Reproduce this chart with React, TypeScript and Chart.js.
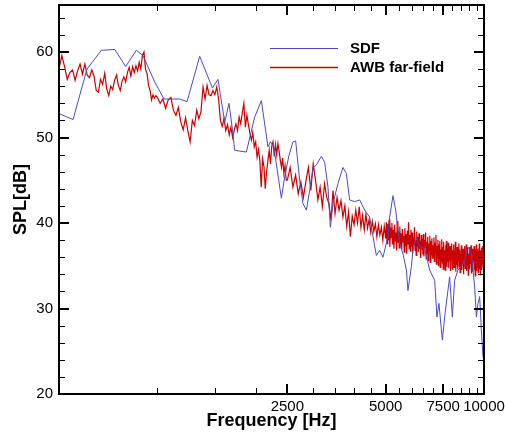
import React, { useEffect, useRef } from "react";
import { Chart, registerables } from "chart.js";

Chart.register(...registerables);

// ---------- data ----------
const sdfFreq = [
  500, 552, 609, 674, 741, 800, 862, 903, 982, 1048, 1171, 1233, 1348, 1474, 1533,
  1608, 1657, 1697, 1725, 1873, 1986, 2082, 2181, 2219, 2271, 2397, 2454, 2529, 2601,
  2651, 2727, 2791, 2859, 2926, 2995, 3068, 3178, 3253, 3329, 3386, 3449, 3572, 3700,
  3790, 3879, 4018, 4163, 4312, 4467, 4572, 4683, 4793, 4906, 5081, 5143, 5264, 5366,
  5518, 5649, 5786, 5851, 5993, 6061, 6208, 6354, 6582, 6818, 7063, 7178, 7279, 7456,
  7578, 7756, 7849, 8000, 8130, 8323, 8525, 8727, 8930, 9148, 9364, 9478, 9584, 9699,
  9815, 9926, 10000,
];
const sdfSpl = [
  52.8, 52.1, 58.0, 60.2, 60.3, 58.3, 60.2, 59.6, 56.5, 54.5, 54.5, 54.2, 59.5, 55.8, 56.8,
  51.8, 54.0, 51.0, 48.5, 48.3, 52.4, 54.3, 48.9, 49.5, 49.0, 42.9, 45.4, 47.9, 49.5,
  49.6, 45.0, 42.3, 41.5, 43.8, 46.4, 46.8, 47.8, 47.1, 44.2, 39.5, 42.3, 44.6, 46.5,
  45.8, 42.7, 42.5, 42.7, 41.5, 40.7, 38.4, 36.2, 36.8, 36.0, 38.4, 40.7, 43.2, 41.5,
  37.6, 36.4, 34.5, 32.1, 34.9, 36.8, 38.4, 37.2, 37.0, 34.5, 33.3, 29.0, 30.6, 26.3,
  29.0, 32.1, 33.7, 29.0, 33.3, 34.5, 34.9, 35.7, 37.2, 36.4, 32.5, 29.0, 30.6, 31.4,
  27.5, 24.4, 24.0,
];

// AWB far-field: spectrum bins, four frequency bands with their own bin width
const awbLowStart = 500;
const awbLowStep = 10;
const awbLowSpl = [
  58.0, 59.6, 58.3, 56.8, 57.6, 57.9, 56.7, 57.8, 58.6, 57.4,
  58.6, 57.3, 57.0, 57.9, 57.2, 55.5, 55.3, 56.8, 56.2, 57.5,
  55.7, 54.9, 56.0, 55.6, 56.7, 57.3, 56.1, 55.5, 56.6, 57.1,
  56.5, 57.6, 58.2, 57.2, 58.3, 57.6, 58.4, 57.8, 58.8, 58.0,
  59.6, 60.0, 58.0, 57.5, 56.1, 55.5, 54.4, 55.0, 54.6, 54.9,
];
const awbMidStart = 1000;
const awbMidStep = 20;
const awbMidSpl = [
  54.7, 54.0, 54.5, 53.4, 54.4, 54.7, 53.2, 52.6, 53.5, 51.8,
  50.9, 52.3, 50.8, 49.5, 52.0, 51.4, 53.2, 52.2, 53.0, 55.9,
  54.5, 56.1, 55.0, 54.9, 55.5, 55.0, 55.9, 54.5, 52.0, 51.3,
  52.2, 50.8, 51.5, 50.3, 51.2, 50.0, 50.9, 51.6, 50.8, 52.4,
  51.6, 52.9, 54.0, 51.2, 52.6, 51.5, 50.5, 49.7, 50.6, 48.9,
  49.5, 47.7, 48.6, 47.3, 44.2, 47.5, 46.6, 44.0, 46.0, 47.3,
  48.5, 46.9, 49.0, 49.5, 47.8, 49.2, 48.0, 49.3, 48.4, 47.3,
  46.5, 47.6, 45.8, 46.7, 45.0,
];
const awbHighStart = 2500;
const awbHighStep = 50;
const awbHighSpl = [
  45.0, 46.5, 44.2, 45.6, 43.4, 44.8, 43.0, 44.9, 46.5, 43.8,
  46.9, 45.0, 42.7, 44.2, 41.9, 44.6, 43.0, 42.3, 40.3, 43.8,
  41.1, 43.0, 41.5, 42.6, 40.7, 42.0, 39.6, 41.3, 38.4, 40.8,
  39.8, 41.5, 40.0, 41.9, 39.5, 40.9, 39.2, 41.0, 39.4, 40.4,
  38.9, 40.2, 39.0, 39.9, 38.4, 39.8, 38.6, 39.5, 38.0, 39.6,
  38.2,
];
const awbTopStart = 5025;
const awbTopStep = 25;
const awbTopSpl = [
  40.1, 37.6, 39.9, 38.0, 40.4, 37.2, 39.5, 38.3, 40.0, 37.5,
  39.2, 37.0, 39.8, 37.9, 38.9, 36.8, 40.2, 37.7, 39.0, 37.1,
  39.6, 37.4, 38.8, 36.9, 39.3, 37.8, 38.5, 36.6, 39.4, 37.3,
  38.7, 36.4, 39.1, 37.5, 40.1, 37.0, 38.6, 36.7, 39.2, 37.2,
  38.9, 36.5, 38.3, 37.4, 39.5, 36.8, 38.0, 36.2, 39.0, 37.3,
  38.4, 36.6, 38.8, 37.0, 37.9, 35.9, 38.6, 36.9, 38.2, 36.3,
  38.7, 36.1, 38.0, 37.2, 38.9, 35.8, 37.8, 36.5, 38.4, 35.6,
  37.6, 36.8, 38.5, 35.4, 37.9, 36.3, 38.2, 35.9, 37.4, 36.0,
  38.3, 35.5, 37.7, 36.6, 38.6, 35.2, 37.3, 36.1, 38.0, 35.0,
  37.5, 35.8, 37.9, 34.8, 36.9, 35.6, 38.1, 35.3, 37.2, 34.6,
  37.8, 35.7, 36.8, 34.5, 37.4, 35.9, 37.9, 34.9, 36.6, 35.4,
  37.7, 34.7, 36.9, 35.6, 37.3, 34.4, 36.5, 35.8, 37.6, 34.6,
  36.8, 35.3, 37.5, 34.8, 36.3, 35.6, 37.8, 34.3, 36.7, 35.1,
  37.2, 34.6, 36.4, 35.5, 37.6, 34.9, 36.9, 34.2, 36.1, 35.4,
  37.4, 34.5, 36.6, 35.2, 37.0, 34.0, 36.8, 35.6, 37.3, 34.7,
  36.2, 35.3, 37.5, 34.4, 36.5, 35.0, 37.1, 33.9, 36.4, 35.5,
  37.2, 34.6, 36.0, 35.2, 37.4, 34.1, 36.6, 35.4, 37.0, 34.3,
  36.3, 35.6, 37.3, 34.5, 36.1, 33.8, 36.9, 35.1, 37.5, 34.4,
  36.4, 35.0, 37.0, 34.2, 36.7, 35.4, 37.6, 34.6, 36.2, 33.9,
  36.8, 35.2, 37.1, 34.5, 36.0, 35.3, 37.3, 34.8, 36.5, 35.8,
];

const xLabelTicks = [2500, 5000, 7500, 10000];
const xMinorTicks = [1000, 1500, 2000, 3000, 3500, 4000, 4500, 5500, 6000, 6500, 7000, 8000, 8500, 9000, 9500];
const yLabelTicks = [20, 30, 40, 50, 60];
const yMinorTicks = [22, 24, 26, 28, 32, 34, 36, 38, 42, 44, 46, 48, 52, 54, 56, 58, 62, 64];

const seriesNames = ["SDF", "AWB far-field"];
const seriesColors = ["#4a4ac8", "#cc0000"];

const FONT = "'Liberation Sans', Arial, Helvetica, sans-serif";

function band(start: number, step: number, vals: number[]) {
  return vals.map((v, i) => ({ x: start + i * step, y: v }));
}

const framePlugin = {
  id: "frameTicksLegend",
  afterDatasetsDraw(chart: any) {
    const { ctx, chartArea: a, scales } = chart;
    const xs = scales.x;
    const ys = scales.y;
    ctx.save();
    ctx.strokeStyle = "#000";
    // minor ticks
    ctx.lineWidth = 1;
    ctx.beginPath();
    for (const v of xMinorTicks) {
      const p = Math.round(xs.getPixelForValue(v)) + 0.5;
      ctx.moveTo(p, a.bottom); ctx.lineTo(p, a.bottom - 6);
      ctx.moveTo(p, a.top); ctx.lineTo(p, a.top + 6);
    }
    for (const v of yMinorTicks) {
      const p = Math.round(ys.getPixelForValue(v)) + 0.5;
      ctx.moveTo(a.left, p); ctx.lineTo(a.left + 6, p);
      ctx.moveTo(a.right, p); ctx.lineTo(a.right - 6, p);
    }
    ctx.stroke();
    // major ticks
    ctx.lineWidth = 2;
    ctx.beginPath();
    for (const v of xLabelTicks) {
      const p = Math.round(xs.getPixelForValue(v));
      ctx.moveTo(p, a.bottom); ctx.lineTo(p, a.bottom - 10);
      ctx.moveTo(p, a.top); ctx.lineTo(p, a.top + 10);
    }
    for (const v of yLabelTicks) {
      const p = Math.round(ys.getPixelForValue(v));
      ctx.moveTo(a.left, p); ctx.lineTo(a.left + 10, p);
      ctx.moveTo(a.right, p); ctx.lineTo(a.right - 10, p);
    }
    ctx.stroke();
    // frame
    ctx.lineWidth = 2;
    ctx.strokeRect(a.left, a.top, a.right - a.left, a.bottom - a.top);

    // legend
    const rows = [48, 67];
    ctx.font = `bold 15px ${FONT}`;
    ctx.textBaseline = "middle";
    ctx.textAlign = "left";
    seriesNames.forEach((name, i) => {
      const y = rows[i];
      ctx.beginPath();
      ctx.strokeStyle = seriesColors[i];
      ctx.lineWidth = i === 1 ? 1.5 : 1.2;
      ctx.moveTo(270, y + 0.5);
      ctx.lineTo(338, y + 0.5);
      ctx.stroke();
      ctx.fillStyle = "#000";
      ctx.fillText(name, 350, y + 1);
    });
    ctx.restore();
  },
};

export default function App() {
  const ref = useRef<HTMLCanvasElement | null>(null);

  useEffect(() => {
    if (!ref.current) return;
    const awbPoints = [
      ...band(awbLowStart, awbLowStep, awbLowSpl),
      ...band(awbMidStart, awbMidStep, awbMidSpl),
      ...band(awbHighStart, awbHighStep, awbHighSpl),
      ...band(awbTopStart, awbTopStep, awbTopSpl),
    ];
    const sdfPoints = sdfFreq.map((f, i) => ({ x: f, y: sdfSpl[i] }));

    const chart = new Chart(ref.current, {
      type: "line",
      data: {
        datasets: [
          {
            label: seriesNames[0],
            data: sdfPoints,
            borderColor: seriesColors[0],
            borderWidth: 1,
            pointRadius: 0,
            tension: 0,
            fill: false,
            order: 0,
          },
          {
            label: seriesNames[1],
            data: awbPoints,
            borderColor: seriesColors[1],
            borderWidth: 1.2,
            pointRadius: 0,
            tension: 0,
            fill: false,
            order: 1,
          },
        ],
      },
      options: {
        animation: false,
        responsive: false,
        layout: { padding: { top: 5, right: 21, left: 0, bottom: 0 } },
        plugins: { legend: { display: false }, tooltip: { enabled: false } },
        scales: {
          x: {
            type: "logarithmic",
            min: 500,
            max: 10000,
            afterBuildTicks: (s: any) => {
              s.ticks = xLabelTicks.map((v) => ({ value: v }));
            },
            afterFit: (s: any) => {
              s.height = 42;
              s.paddingLeft = 0;
              s.paddingRight = 0;
            },
            grid: { display: false, drawTicks: false },
            border: { display: false },
            ticks: {
              autoSkip: false,
              maxRotation: 0,
              padding: 4,
              color: "#000",
              font: { family: FONT, size: 15 },
              callback: (v: any) => String(v),
            },
            title: {
              display: true,
              text: "Frequency [Hz]",
              color: "#000",
              font: { family: FONT, size: 18, weight: "bold" },
              padding: { top: 0, bottom: 4 },
            },
          },
          y: {
            type: "linear",
            min: 20,
            max: 65.5,
            afterBuildTicks: (s: any) => {
              s.ticks = yLabelTicks.map((v) => ({ value: v }));
            },
            afterFit: (s: any) => {
              s.width = 59;
              s.paddingTop = 0;
              s.paddingBottom = 0;
            },
            grid: { display: false, drawTicks: false },
            border: { display: false },
            ticks: {
              padding: 6,
              color: "#000",
              font: { family: FONT, size: 15 },
              callback: (v: any) => String(v),
            },
            title: {
              display: true,
              text: "SPL[dB]",
              color: "#000",
              font: { family: FONT, size: 18, weight: "bold" },
              padding: { top: 10, bottom: 0 },
            },
          },
        },
      },
      plugins: [framePlugin],
    } as any);
    return () => chart.destroy();
  }, []);

  return (
    <div style={{ position: "absolute", left: 0, top: 0, width: 505, height: 436, background: "#fff" }}>
      <canvas ref={ref} width={505} height={436} style={{ display: "block" }} />
    </div>
  );
}
